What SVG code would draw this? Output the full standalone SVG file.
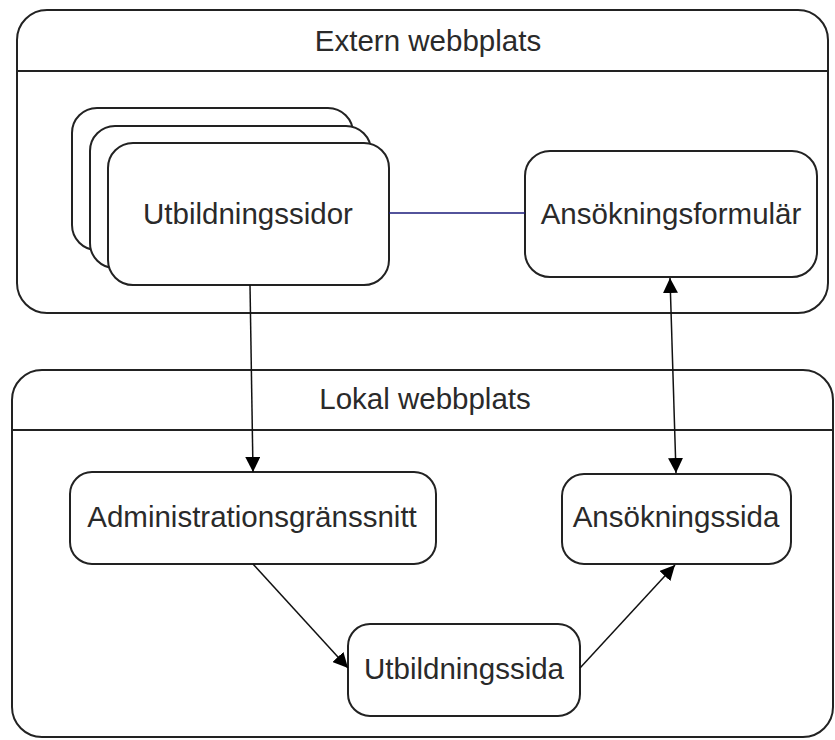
<svg xmlns="http://www.w3.org/2000/svg" width="835" height="740" viewBox="0 0 835 740">
<defs>
<marker id="ah" viewBox="0 0 10 10" refX="10" refY="5" markerWidth="15" markerHeight="15" markerUnits="userSpaceOnUse" orient="auto-start-reverse">
<path d="M0,0 L10,5 L0,10 Z" fill="#000"/>
</marker>
<style>
.box{fill:#fff;stroke:#222;stroke-width:2}
.hdr{fill:none;stroke:#222;stroke-width:2}
.t{font-family:"Liberation Sans",Arial,sans-serif;font-size:29.5px;fill:#2a2a2a;text-anchor:middle}
.c{fill:none;stroke:#111;stroke-width:1.5}
</style>
</defs>
<rect width="835" height="740" fill="#fff"/>
<g id="extern">
<rect class="box" x="17" y="10" width="811" height="303" rx="30"/>
<line class="hdr" x1="17" y1="71" x2="828" y2="71"/>
<text class="t" x="428" y="51">Extern webbplats</text>
</g>
<g id="lokal">
<rect class="box" x="12" y="370" width="821" height="367" rx="30"/>
<line class="hdr" x1="12" y1="430" x2="833" y2="430"/>
<text class="t" x="425" y="409">Lokal webbplats</text>
</g>
<g id="utbildningssidor">
<rect class="box" x="72" y="108" width="281" height="142" rx="25"/>
<rect class="box" x="90" y="126" width="281" height="142" rx="25"/>
<rect class="box" x="108" y="143" width="281" height="142" rx="25"/>
<text class="t" x="248" y="224">Utbildningssidor</text>
</g>
<g id="ansokningsformular">
<rect class="box" x="525" y="151" width="292" height="126" rx="25"/>
<text class="t" x="671" y="224">Ansökningsformulär</text>
</g>
<g id="admin">
<rect class="box" x="70" y="472" width="366" height="92" rx="22"/>
<text class="t" x="252" y="527">Administrationsgränssnitt</text>
</g>
<g id="ansokningssida">
<rect class="box" x="562" y="474" width="229" height="90" rx="22"/>
<text class="t" x="676" y="527">Ansökningssida</text>
</g>
<g id="utbildningssida">
<rect class="box" x="348" y="624" width="232" height="92" rx="22"/>
<text class="t" x="464" y="679">Utbildningssida</text>
</g>
<g id="connectors">
<line x1="389" y1="213" x2="525" y2="213" stroke="#1a1a7a" stroke-width="1.5"/>
<line class="c" x1="250" y1="285" x2="253" y2="472" marker-end="url(#ah)"/>
<line class="c" x1="670" y1="278" x2="676" y2="473" marker-start="url(#ah)" marker-end="url(#ah)"/>
<line class="c" x1="253" y1="564" x2="348" y2="668" marker-end="url(#ah)"/>
<line class="c" x1="580" y1="668" x2="675" y2="565" marker-end="url(#ah)"/>
</g>
</svg>
